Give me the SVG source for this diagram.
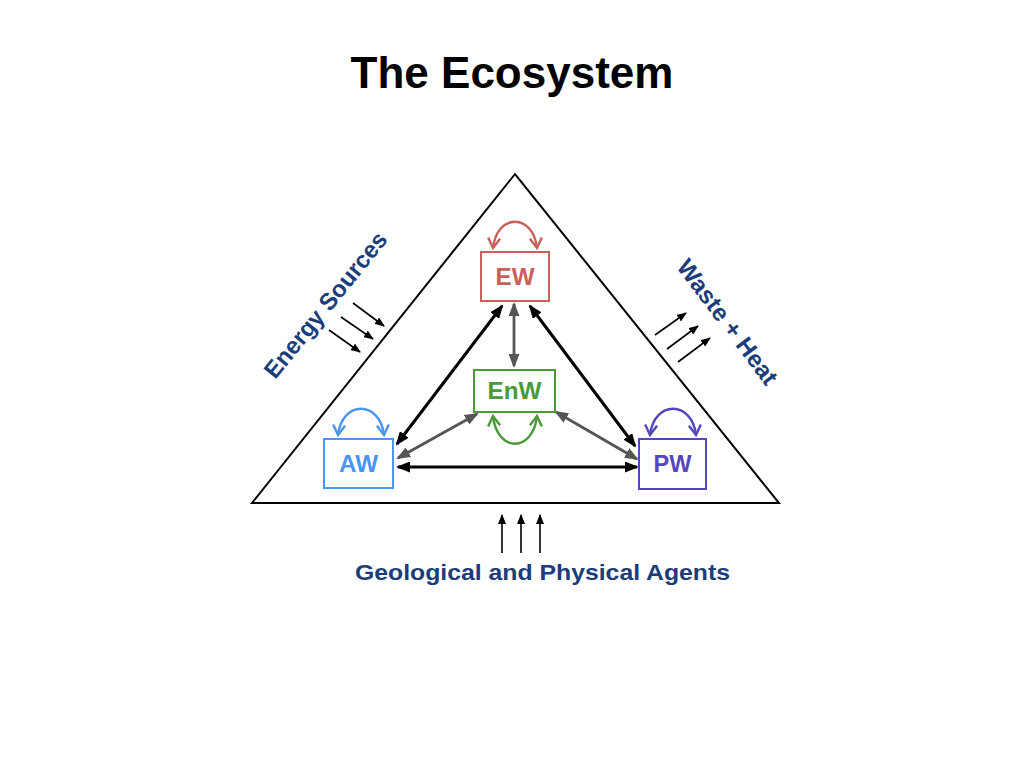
<svg xmlns="http://www.w3.org/2000/svg" width="1024" height="768" viewBox="0 0 1024 768">
<defs>
<style>
.title{font-family:"Liberation Sans",Arial,sans-serif;font-weight:bold;font-size:44px;fill:#000}
.lab{font-family:"Liberation Sans",Arial,sans-serif;font-weight:bold;fill:#1b3d7a}
.box{fill:#fff;stroke-width:2}
.bt{font-family:"Liberation Sans",Arial,sans-serif;font-weight:bold;font-size:24px;text-anchor:middle}
.blk{stroke:#000;stroke-width:3;fill:none}
.gry{stroke:#555;stroke-width:2.8;fill:none}
.thin{stroke:#000;stroke-width:1.6;fill:none}
.loop{fill:none;stroke-width:2.4}
</style>
<marker id="ab" markerUnits="userSpaceOnUse" viewBox="0 0 14 11" markerWidth="14" markerHeight="11" refX="12" refY="5.5" orient="auto-start-reverse"><path d="M0,0 L14,5.5 L0,11 z" fill="#000"/></marker>
<marker id="ag" markerUnits="userSpaceOnUse" viewBox="0 0 14 11" markerWidth="14" markerHeight="11" refX="12" refY="5.5" orient="auto-start-reverse"><path d="M0,0 L14,5.5 L0,11 z" fill="#555"/></marker>
<marker id="at" markerUnits="userSpaceOnUse" viewBox="0 0 10 8" markerWidth="10" markerHeight="8" refX="9" refY="4" orient="auto-start-reverse"><path d="M0,0 L10,4 L0,8 z" fill="#000"/></marker>
<marker id="vr" markerUnits="userSpaceOnUse" viewBox="-2 -2 14 16" markerWidth="14" markerHeight="16" refX="10" refY="6" orient="auto-start-reverse"><path d="M0,0 L10,6 L0,12" fill="none" stroke="#c9605a" stroke-width="2.4"/></marker>
<marker id="vg" markerUnits="userSpaceOnUse" viewBox="-2 -2 14 16" markerWidth="14" markerHeight="16" refX="10" refY="6" orient="auto-start-reverse"><path d="M0,0 L10,6 L0,12" fill="none" stroke="#4a9a3a" stroke-width="2.4"/></marker>
<marker id="vb" markerUnits="userSpaceOnUse" viewBox="-2 -2 14 16" markerWidth="14" markerHeight="16" refX="10" refY="6" orient="auto-start-reverse"><path d="M0,0 L10,6 L0,12" fill="none" stroke="#4a96f5" stroke-width="2.4"/></marker>
<marker id="vp" markerUnits="userSpaceOnUse" viewBox="-2 -2 14 16" markerWidth="14" markerHeight="16" refX="10" refY="6" orient="auto-start-reverse"><path d="M0,0 L10,6 L0,12" fill="none" stroke="#5346c1" stroke-width="2.4"/></marker>
</defs>
<rect width="1024" height="768" fill="#fff"/>
<text class="title" x="512" y="88" text-anchor="middle">The Ecosystem</text>
<g id="ecosystem-triangle">
<polygon points="515,174 252,503 779,503" fill="none" stroke="#000" stroke-width="2"/>
</g>
<g id="connectors">
<line class="blk" x1="397" y1="444" x2="502" y2="306" marker-start="url(#ab)" marker-end="url(#ab)"/>
<line class="blk" x1="530" y1="306" x2="635" y2="446" marker-start="url(#ab)" marker-end="url(#ab)"/>
<line class="blk" x1="398" y1="467" x2="637" y2="467" marker-start="url(#ab)" marker-end="url(#ab)"/>
<line class="gry" x1="514" y1="304" x2="514" y2="366" marker-start="url(#ag)" marker-end="url(#ag)"/>
<line class="gry" x1="398" y1="458" x2="477" y2="414" marker-start="url(#ag)" marker-end="url(#ag)"/>
<line class="gry" x1="556" y1="412" x2="637" y2="459" marker-start="url(#ag)" marker-end="url(#ag)"/>
<line class="thin" x1="353" y1="303" x2="384" y2="326" marker-end="url(#at)"/>
<line class="thin" x1="341" y1="317" x2="373" y2="339" marker-end="url(#at)"/>
<line class="thin" x1="329" y1="330" x2="360" y2="352" marker-end="url(#at)"/>
<line class="thin" x1="655" y1="335" x2="686" y2="313" marker-end="url(#at)"/>
<line class="thin" x1="667" y1="349" x2="698" y2="326" marker-end="url(#at)"/>
<line class="thin" x1="678" y1="362" x2="710" y2="338" marker-end="url(#at)"/>
<line class="thin" x1="502" y1="553" x2="502" y2="515" marker-end="url(#at)"/>
<line class="thin" x1="521" y1="553" x2="521" y2="515" marker-end="url(#at)"/>
<line class="thin" x1="540" y1="553" x2="540" y2="515" marker-end="url(#at)"/>
</g>
<g id="EW">
<rect class="box" x="481" y="252" width="68" height="49" stroke="#c9605a"/>
<text class="bt" x="515" y="285" fill="#c9605a" textLength="39" lengthAdjust="spacingAndGlyphs">EW</text>
<path class="loop" d="M493,248 C497,213 533,213 537,248" stroke="#c9605a" marker-start="url(#vr)" marker-end="url(#vr)"/>
</g>
<g id="EnW">
<rect class="box" x="474" y="370" width="81" height="42" stroke="#4a9a3a"/>
<text class="bt" x="514.5" y="399" fill="#4a9a3a" textLength="54" lengthAdjust="spacingAndGlyphs">EnW</text>
<path class="loop" d="M493,416 C497,453 533,453 537,416" stroke="#4a9a3a" marker-start="url(#vg)" marker-end="url(#vg)"/>
</g>
<g id="AW">
<rect class="box" x="324" y="439" width="69" height="49" stroke="#4a96f5"/>
<text class="bt" x="358.5" y="472" fill="#4a96f5" textLength="39" lengthAdjust="spacingAndGlyphs">AW</text>
<path class="loop" d="M338,435 C342,400 380,400 384,435" stroke="#4a96f5" marker-start="url(#vb)" marker-end="url(#vb)"/>
</g>
<g id="PW">
<rect class="box" x="639" y="439" width="67" height="50" stroke="#5346c1"/>
<text class="bt" x="672.5" y="472" fill="#5346c1" textLength="38" lengthAdjust="spacingAndGlyphs">PW</text>
<path class="loop" d="M650,435 C654,400 692,400 696,435" stroke="#5346c1" marker-start="url(#vp)" marker-end="url(#vp)"/>
</g>
<g id="labels">
<text class="lab" font-size="24" text-anchor="middle" transform="translate(332,310) rotate(-51)" textLength="180" lengthAdjust="spacingAndGlyphs">Energy Sources</text>
<text class="lab" font-size="24" text-anchor="middle" transform="translate(721,327) rotate(53)" textLength="150" lengthAdjust="spacingAndGlyphs">Waste + Heat</text>
<text class="lab" font-size="22.5" text-anchor="middle" x="542.5" y="580" textLength="375" lengthAdjust="spacingAndGlyphs">Geological and Physical Agents</text>
</g>
</svg>
